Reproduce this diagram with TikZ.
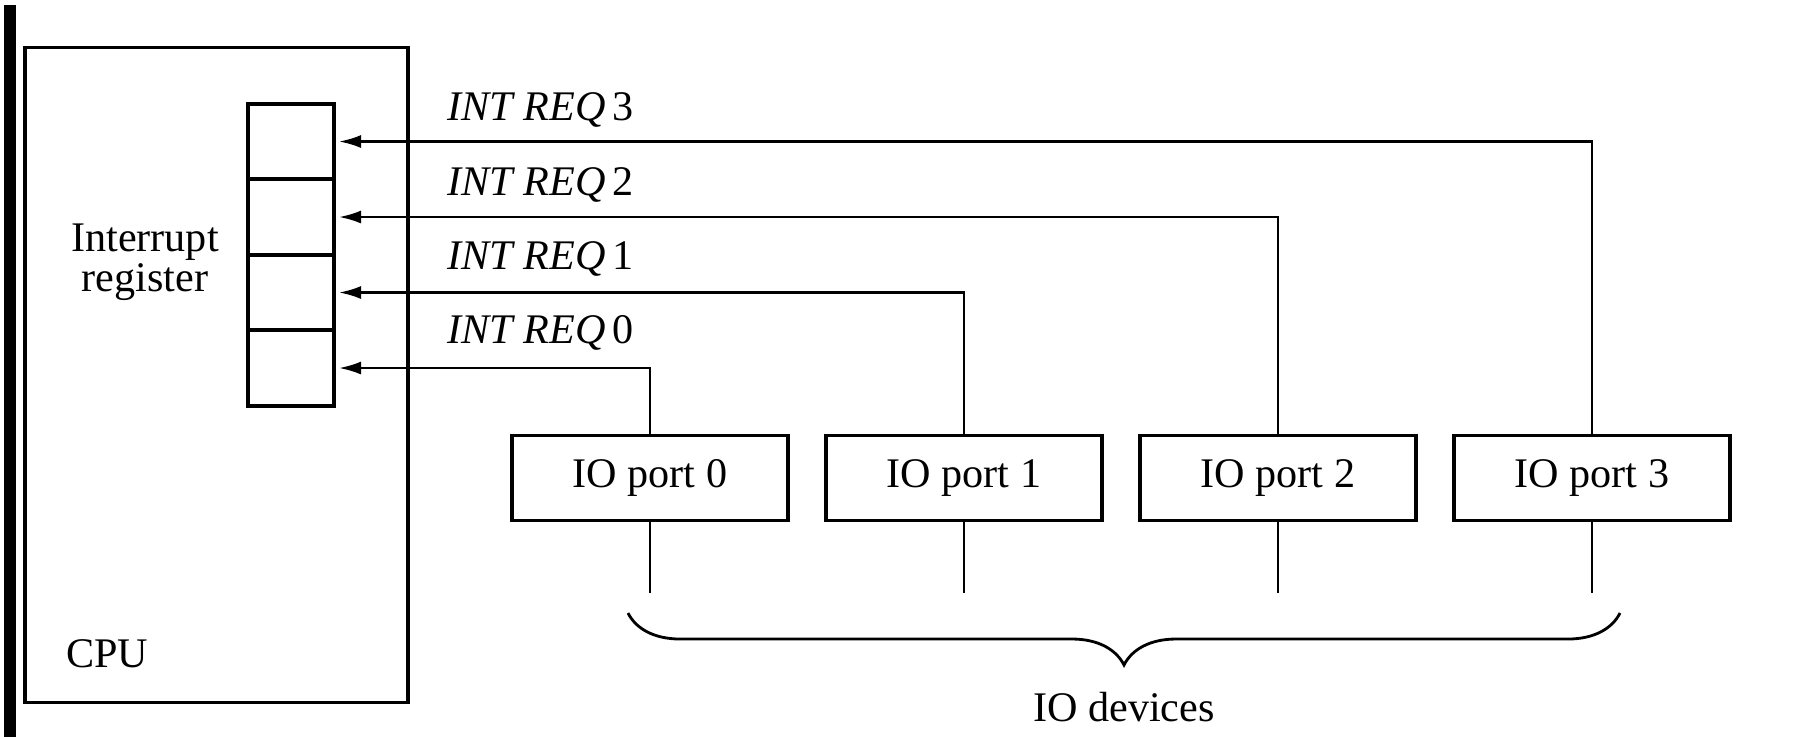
\documentclass[tikz,border=0pt]{standalone}
\usepackage{fontspec}
\setmainfont{Liberation Serif}
\usetikzlibrary{arrows.meta,positioning,decorations.pathreplacing}

\begin{document}
\begin{tikzpicture}[
  x=0.1mm, y=-0.1mm,
  font=\fontsize{12}{11.5}\selectfont,
  node distance=0mm and 3.8mm,
  cell/.style={draw, line width=1.1pt, minimum width=8.6mm, minimum height=7.55mm,
    inner sep=0pt, outer sep=0pt},
  port/.style={draw, line width=1.1pt, minimum width=27.6mm, minimum height=8.5mm,
    inner sep=0pt, outer sep=0pt},
  req/.style={-{Latex[length=2.2mm,width=1.3mm]}, line width=0.7pt, shorten >=0.5mm},
  wire/.style={line width=0.7pt},
  reqlabel/.style={anchor=west, font=\fontsize{12}{14}\selectfont},
  brace/.style={decorate, decoration={brace, amplitude=5.2mm}, line width=0.8pt}
]
  \useasboundingbox (0,0) rectangle (1800,737);
  \fill (4,5) rectangle (16,737);

  \node[draw, line width=0.9pt, minimum width=38.3mm, minimum height=65.5mm] (cpu) at (216.5,375) {};
  \node[anchor=west] (cpulabel) at (54,654) {CPU};

  % the register, one cell per request line
  \node[cell] (cell3) at (291,141.5) {};
  \node[cell, below=of cell3] (cell2) {};
  \node[cell, below=of cell2] (cell1) {};
  \node[cell, below=of cell1] (cell0) {};
  \node[align=center] (reglabel) at (145,262) {Interrupt\\register};

  \node[port] (port0) at (650,478) {IO port 0};
  \node[port, right=of port0] (port1) {IO port 1};
  \node[port, right=of port1] (port2) {IO port 2};
  \node[port, right=of port2] (port3) {IO port 3};

  \draw[req] (port3.north) |- (cell3.east);
  \draw[req] (port2.north) |- (cell2.east);
  \draw[req] (port1.north) |- (cell1.east);
  \draw[req] (port0.north) |- (cell0.east);

  \node[reqlabel] (req3) at (435,110) {\textit{INT REQ}\,3};
  \node[reqlabel] (req2) at (435,185) {\textit{INT REQ}\,2};
  \node[reqlabel] (req1) at (435,259) {\textit{INT REQ}\,1};
  \node[reqlabel] (req0) at (435,333) {\textit{INT REQ}\,0};

  % device side
  \coordinate (bus) at (0,593);
  \draw[wire] (port0.south) -- (port0.south |- bus);
  \draw[wire] (port1.south) -- (port1.south |- bus);
  \draw[wire] (port2.south) -- (port2.south |- bus);
  \draw[wire] (port3.south) -- (port3.south |- bus);

  \coordinate (braceR) at (1620,613);
  \coordinate (braceL) at (628,613);
  \draw[brace] (braceR) -- (braceL);
  \node (devices) at (1124,707) {IO devices};
\end{tikzpicture}
\end{document}
